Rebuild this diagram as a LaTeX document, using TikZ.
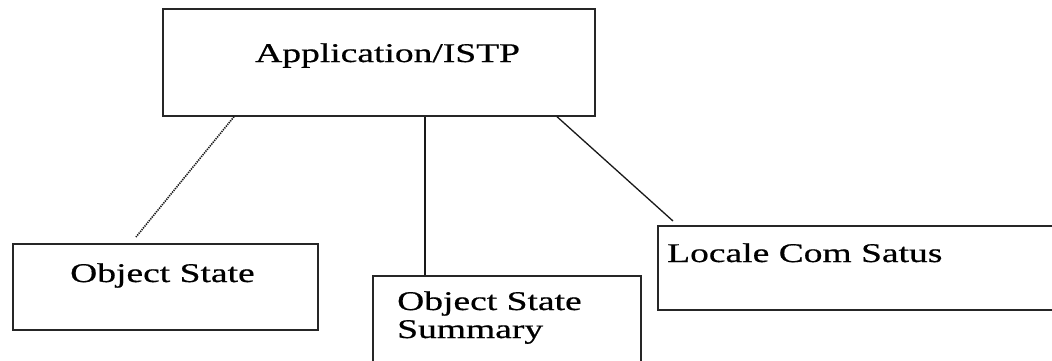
\documentclass[tikz,border=0pt]{standalone}
\usepackage{fontspec}
\setmainfont{Liberation Serif}[FakeStretch=1.39, FakeBold=0.6]
\usetikzlibrary{positioning}

\begin{document}
\begin{tikzpicture}[x=1pt, y=-1pt,
        box/.style={draw=black!85, line width=1.7pt, inner sep=0pt, anchor=north west},
        txt/.style={anchor=base west, inner sep=0pt, align=left,
            font=\fontsize{27}{28}\selectfont},
        link/.style={draw=black!90, line width=1.3pt}]
            \useasboundingbox (0, 0) rectangle (1052, 360);
            \clip (0, 0) rectangle (1052, 360);
            \fill[white] (0, 0) rectangle (1052, 360);

            % boxes
            \node [box, minimum width=432pt, minimum height=107pt] (app) at (162, 8) {};
            \node [box, minimum width=305pt, minimum height=86pt] (obj) at (12, 243) {};
            \node [box, minimum width=268pt, minimum height=130pt] (sum) at (372, 275) {};
            \node [box, minimum width=443pt, minimum height=84pt] (loc) at (657, 225) {};

            % texts (base of a two-line node is its last line)
            \node [txt] (appt) at (255, 62) {Application/ISTP};
            \node [txt] (objt) at (70, 282) {Object State};
            \node [txt] (sumt) at (397, 338) {Object State\\Summary};
            \node [txt] (loct) at (667, 262) {Locale Com Satus};

            % connectors
            \draw [link, densely dotted, line width=1.6pt] ([xshift=72pt]app.south west) -- ([xshift=124pt, yshift=6pt]obj.north west);
            \draw [link] ([xshift=53pt]sum.north west) -- ([xshift=53pt]sum.north west |- app.south);
            \draw [link] ([xshift=395pt]app.south west) -- ([xshift=16pt, yshift=4pt]loc.north west);
        \end{tikzpicture}
\end{document}
